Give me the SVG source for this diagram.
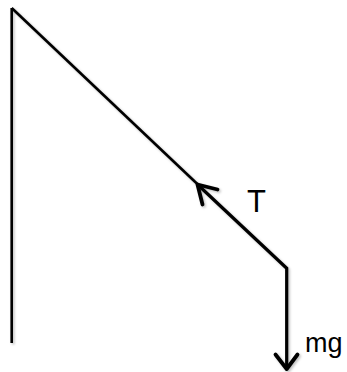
<svg xmlns="http://www.w3.org/2000/svg" width="347" height="372" viewBox="0 0 347 372">
<defs>
<filter id="sh" x="-10%" y="-10%" width="130%" height="130%">
<feDropShadow dx="1.5" dy="1.5" stdDeviation="1.2" flood-color="#000" flood-opacity="0.25"/>
</filter>
<style>
.thin{stroke:#000;stroke-width:2.6;fill:none;stroke-linecap:butt}
.thick{stroke:#000;stroke-width:3.2;fill:none;stroke-linecap:butt;stroke-linejoin:miter}
.head{stroke:#000;stroke-width:3.8;fill:none;stroke-linecap:round;stroke-linejoin:round}
.lbl{font-family:"Liberation Sans",Arial,sans-serif;font-size:31px;fill:#000}
.lbl2{font-family:"Liberation Sans",Arial,sans-serif;font-size:27px;fill:#000}
</style>
</defs>
<rect width="347" height="372" fill="#fff"/>
<g id="connectors" filter="url(#sh)">
<path id="wall" class="thin" d="M11.7,8 V343"/>
<path id="rope" class="thin" d="M11.7,8 L200,186.5"/>
<path id="tension" class="thick" d="M197,184 L286.7,268.3 V368"/>
<path id="tension-head" class="head" d="M217.5,189.5 L197.5,184.5 L202.5,204.5"/>
<path id="weight-head" class="head" d="M275.5,354.5 L286.7,369 L297.5,354.5"/>
</g>
<g id="label-T"><text class="lbl" x="247" y="212">T</text></g>
<g id="label-mg"><text class="lbl2" x="305" y="352">mg</text></g>
</svg>
